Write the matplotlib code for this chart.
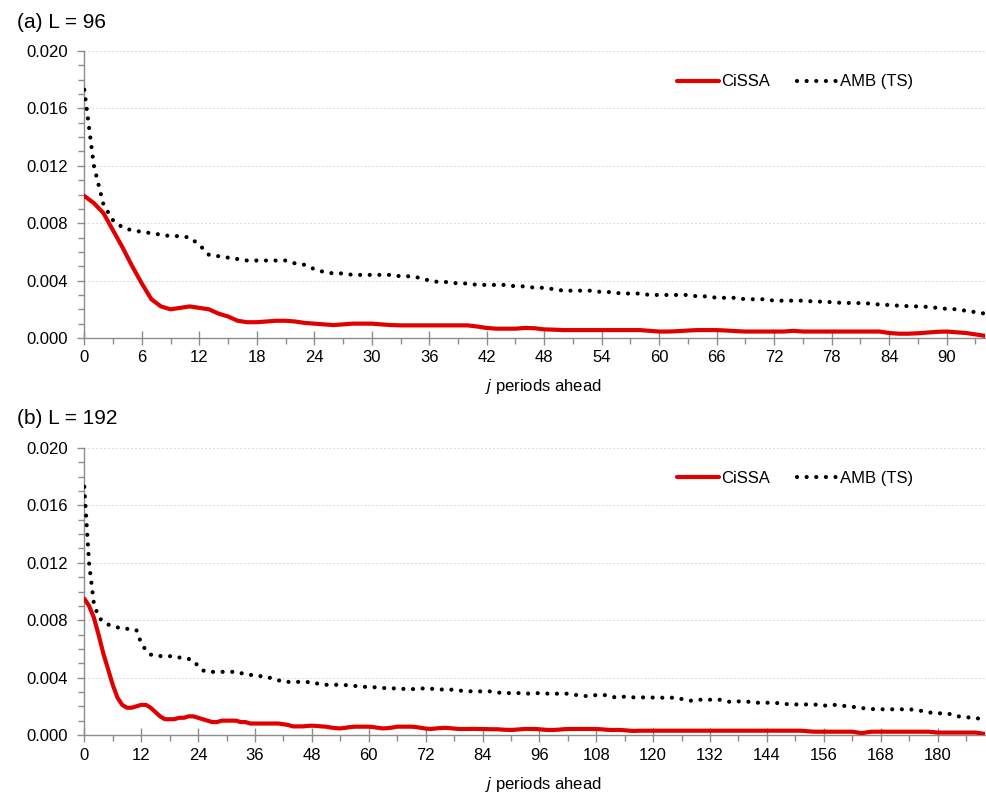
import matplotlib
matplotlib.use("Agg")
import matplotlib.pyplot as plt
from matplotlib.ticker import MultipleLocator, FormatStrFormatter

plt.rcParams['font.family'] = ['Liberation Sans', 'DejaVu Sans']
plt.rcParams['mathtext.fontset'] = 'custom'
plt.rcParams['mathtext.it'] = 'Liberation Sans:italic'
plt.rcParams['mathtext.rm'] = 'Liberation Sans'

# ---------------- Data ----------------
panel_titles = ["(a) L = 96", "(b) L = 192"]
series_names = ["CiSSA", "AMB (TS)"]
xlabel_text = "$j$ periods ahead"

# Panel (a): j = 0..94
cissa_a = [
    0.0099, 0.0094, 0.0087, 0.0075, 0.0063, 0.0050, 0.0038, 0.0027, 0.0022, 0.0020,
    0.0021, 0.0022, 0.0021, 0.0020, 0.0017, 0.0015, 0.0012, 0.0011, 0.0011, 0.00115,
    0.0012, 0.0012, 0.00115, 0.00105, 0.0010, 0.00095, 0.0009, 0.00095, 0.0010, 0.0010,
    0.0010, 0.00095, 0.0009, 0.00088, 0.00088, 0.00088, 0.00088, 0.00088, 0.00088, 0.00088,
    0.00088, 0.0008, 0.0007, 0.00065, 0.00065, 0.00065, 0.0007, 0.00068, 0.0006, 0.00058,
    0.00055, 0.00055, 0.00055, 0.00055, 0.00055, 0.00055, 0.00055, 0.00055, 0.00055, 0.0005,
    0.00045, 0.00045, 0.00048, 0.00052, 0.00055, 0.00055, 0.00055, 0.00052, 0.00048, 0.00045,
    0.00045, 0.00045, 0.00045, 0.00045, 0.0005, 0.00045, 0.00045, 0.00045, 0.00045, 0.00045,
    0.00045, 0.00045, 0.00045, 0.00045, 0.00035, 0.0003, 0.0003, 0.00033, 0.00038, 0.00043,
    0.00045, 0.0004, 0.00035, 0.00025, 0.00015,
]
amb_a = [
    0.0173, 0.0120, 0.0093, 0.0082, 0.0077, 0.0075, 0.0074, 0.0073, 0.0072, 0.0071,
    0.0071, 0.0070, 0.0065, 0.0058, 0.0057, 0.0056, 0.0055, 0.0054, 0.0054, 0.0054,
    0.0054, 0.0054, 0.0052, 0.0051, 0.0048, 0.0046, 0.0045, 0.0045, 0.0044, 0.0044,
    0.0044, 0.0044, 0.0044, 0.0043, 0.0043, 0.0042, 0.0040, 0.0039, 0.0039, 0.0038,
    0.0038, 0.0037, 0.0037, 0.0037, 0.0037, 0.0036, 0.0036, 0.0035, 0.0035, 0.0034,
    0.0033, 0.0033, 0.0033, 0.0033, 0.0032, 0.0032, 0.0031, 0.0031, 0.0031, 0.0030,
    0.0030, 0.0030, 0.0030, 0.0030, 0.0029, 0.0029, 0.0028, 0.0028, 0.0028, 0.0027,
    0.0027, 0.0027, 0.0026, 0.0026, 0.0026, 0.0026, 0.00255, 0.00253, 0.0025, 0.00245,
    0.00244, 0.00243, 0.0024, 0.00233, 0.0023, 0.00225, 0.00222, 0.0022, 0.00217, 0.0021,
    0.00203, 0.0020, 0.0019, 0.0018, 0.0017,
]

# Panel (b): j = 0..190
cissa_b = [
    0.0095, 0.0090, 0.0082, 0.0070, 0.0057, 0.0046, 0.0035, 0.0026, 0.0021, 0.0019,
    0.0019, 0.0020, 0.0021, 0.0021, 0.0019, 0.0016, 0.0013, 0.0011, 0.0011, 0.0011,
    0.0012, 0.0012, 0.0013, 0.0013, 0.0012, 0.0011, 0.0010, 0.0009, 0.0009, 0.0010,
    0.0010, 0.0010, 0.0010, 0.0009, 0.0009, 0.0008, 0.0008, 0.0008, 0.0008, 0.0008,
    0.0008, 0.0008, 0.00075, 0.0007, 0.0006, 0.0006, 0.0006, 0.00063, 0.00065, 0.00063,
    0.0006, 0.00058, 0.00052, 0.00048, 0.00046, 0.0005, 0.00055, 0.00058, 0.00058, 0.00058,
    0.00058, 0.00055, 0.0005, 0.00046, 0.00048, 0.00052, 0.00058, 0.00058, 0.00058, 0.00058,
    0.00055, 0.0005, 0.00045, 0.00042, 0.00045, 0.00048, 0.0005, 0.00048, 0.00045, 0.00042,
    0.00042, 0.00042, 0.00043, 0.00042, 0.00042, 0.00041, 0.0004, 0.0004, 0.00038, 0.00036,
    0.00035, 0.00037, 0.0004, 0.00042, 0.00042, 0.00042, 0.0004, 0.00037, 0.00035, 0.00035,
    0.00037, 0.0004, 0.00042, 0.00042, 0.00042, 0.00042, 0.00042, 0.00042, 0.00042, 0.0004,
    0.00037, 0.00035, 0.00035, 0.00035, 0.00033, 0.0003, 0.00028, 0.0003, 0.0003, 0.0003,
    0.0003, 0.0003, 0.0003, 0.0003, 0.0003, 0.0003, 0.0003, 0.0003, 0.0003, 0.0003,
    0.0003, 0.0003, 0.0003, 0.0003, 0.0003, 0.0003, 0.0003, 0.0003, 0.0003, 0.0003,
    0.0003, 0.0003, 0.0003, 0.0003, 0.0003, 0.0003, 0.0003, 0.0003, 0.0003, 0.0003,
    0.0003, 0.0003, 0.00028, 0.00025, 0.00023, 0.00023, 0.00023, 0.00023, 0.00023, 0.00023,
    0.00023, 0.00023, 0.00023, 0.00018, 0.00013, 0.00018, 0.00023, 0.00023, 0.00023, 0.00023,
    0.00023, 0.00023, 0.00023, 0.00023, 0.00023, 0.00023, 0.00023, 0.00023, 0.00023, 0.0002,
    0.00017, 0.00017, 0.00017, 0.00017, 0.00017, 0.00017, 0.00017, 0.00017, 0.00017, 0.00012,
    0.00007,
]
amb_b = [
    0.0173, 0.0120, 0.0092, 0.0082, 0.0079, 0.0077, 0.0076, 0.0075, 0.0074, 0.0074,
    0.0074, 0.0073, 0.0064, 0.0059, 0.0056, 0.0056, 0.0055, 0.0055, 0.0055, 0.0054,
    0.0054, 0.0054, 0.0053, 0.0052, 0.0048, 0.0045, 0.0044, 0.0044, 0.0044, 0.0044,
    0.0044, 0.0044, 0.0044, 0.0043, 0.0043, 0.0042, 0.0041, 0.0041, 0.0041, 0.0040,
    0.0039, 0.0038, 0.0038, 0.0037, 0.0037, 0.0037, 0.0037, 0.0037, 0.0036, 0.0036,
    0.0035, 0.0035, 0.0035, 0.0035, 0.0035, 0.00348, 0.00346, 0.00342, 0.00339, 0.00336,
    0.00334, 0.00333, 0.00332, 0.00328, 0.00325, 0.00325, 0.00325, 0.00322, 0.0032, 0.0032,
    0.0032, 0.00323, 0.00327, 0.00323, 0.0032, 0.00318, 0.00316, 0.00316, 0.00316, 0.00311,
    0.00306, 0.00305, 0.00304, 0.00304, 0.00304, 0.00304, 0.00304, 0.00298, 0.00292, 0.00292,
    0.00292, 0.00292, 0.00292, 0.0029, 0.00288, 0.0029, 0.00292, 0.0029, 0.00288, 0.00288,
    0.00288, 0.00288, 0.00288, 0.00283, 0.00278, 0.00274, 0.00271, 0.00275, 0.00278, 0.00278,
    0.00278, 0.0027, 0.00262, 0.00265, 0.00267, 0.00264, 0.00262, 0.00262, 0.00262, 0.00262,
    0.00261, 0.0026, 0.0026, 0.0026, 0.0026, 0.00256, 0.00251, 0.00245, 0.00239, 0.00243,
    0.00246, 0.00246, 0.00246, 0.00246, 0.00246, 0.00239, 0.00232, 0.00233, 0.00234, 0.00233,
    0.00232, 0.00228, 0.00225, 0.00225, 0.00225, 0.00224, 0.00223, 0.0022, 0.00216, 0.00214,
    0.00213, 0.00213, 0.00213, 0.00213, 0.00213, 0.00208, 0.00204, 0.00208, 0.00211, 0.00207,
    0.00204, 0.0020, 0.00197, 0.00192, 0.00188, 0.00184, 0.00181, 0.0018, 0.00179, 0.00179,
    0.00179, 0.00179, 0.00179, 0.00179, 0.00179, 0.00176, 0.00172, 0.00165, 0.00158, 0.00154,
    0.00151, 0.00151, 0.00151, 0.00142, 0.00132, 0.00127, 0.00123, 0.00122, 0.00121, 0.0011,
    0.0010,
]

panels = [
    dict(title=panel_titles[0], cissa=cissa_a, amb=amb_a, xmax=94, xmajor=6, xminor=3),
    dict(title=panel_titles[1], cissa=cissa_b, amb=amb_b, xmax=190, xmajor=12, xminor=6),
]

# ---------------- Figure ----------------
W, H = 987, 793
fig = plt.figure(figsize=(W / 100, H / 100), dpi=100)

axis_col = "#8c8c8c"
red = "#e00000"
left_px, right_px = 84.3, 985
boxes = [(51, 338), (448, 735)]  # top, bottom in px
title_y = [22, 419]
xlabel_y = [387, 784]
legend_y = [0.892, 0.8945]

for p, (top, bot), ty, xy, ly in zip(panels, boxes, title_y, xlabel_y, legend_y):
    ax = fig.add_axes([left_px / W, 1 - bot / H, (right_px - left_px) / W, (bot - top) / H])
    x = list(range(len(p["cissa"])))
    ax.plot(x, p["cissa"], color=red, lw=3.0, solid_capstyle="round",
            solid_joinstyle="round", label=series_names[0], zorder=3)
    ax.plot(x, p["amb"], color="black", lw=3.0, linestyle=(0, (0.01, 2.3)),
            dash_capstyle="round", label=series_names[1], zorder=4)

    ax.set_xlim(0, p["xmax"])
    ax.set_ylim(0, 0.020)
    ax.yaxis.set_major_locator(MultipleLocator(0.004))
    ax.yaxis.set_minor_locator(MultipleLocator(0.001))
    ax.yaxis.set_major_formatter(FormatStrFormatter("%.3f"))
    ticks = list(range(0, p["xmax"] + 1, p["xmajor"]))
    ax.set_xticks(ticks)
    ax.xaxis.set_minor_locator(MultipleLocator(p["xminor"]))

    for s in ["top", "right"]:
        ax.spines[s].set_visible(False)
    for s in ["left", "bottom"]:
        ax.spines[s].set_color(axis_col)
        ax.spines[s].set_linewidth(1.0)

    ax.grid(axis="y", which="major", color="#d9d9d9", linestyle=(0, (2, 2)), lw=0.7)
    ax.set_axisbelow(True)

    ax.tick_params(axis="y", which="major", direction="out", length=5,
                   color=axis_col, labelsize=12, labelcolor="black", width=1.0, pad=7)
    ax.tick_params(axis="y", which="minor", direction="out", length=4,
                   color=axis_col, width=1.0)
    ax.tick_params(axis="x", which="major", direction="inout", length=10,
                   color=axis_col, labelsize=12, labelcolor="black", width=1.0, pad=4)
    ax.tick_params(axis="x", which="minor", direction="out", length=4,
                   color=axis_col, width=1.0)

    ax.legend(loc="center right", bbox_to_anchor=(0.928, ly), ncol=2, frameon=False,
              fontsize=12, handlelength=2.5, handletextpad=0.12, columnspacing=1.6,
              borderaxespad=0)

    fig.text(17 / W, 1 - ty / H, p["title"], fontsize=15, ha="left", va="center")
    fig.text(543.5 / W, 1 - xy / H, xlabel_text, fontsize=12,
             ha="center", va="center")

fig.savefig("out.png", dpi=100)
